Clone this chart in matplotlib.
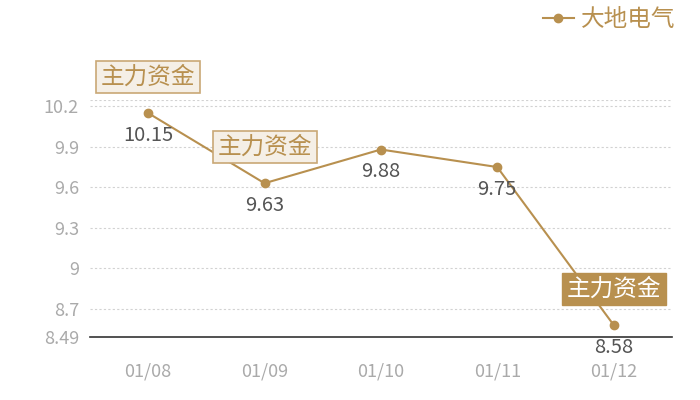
import matplotlib
matplotlib.use("Agg")
import matplotlib.pyplot as plt

plt.rcParams['font.family'] = ['Noto Sans CJK SC', 'DejaVu Sans']

# data
dates = ['01/08', '01/09', '01/10', '01/11', '01/12']
prices = [10.15, 9.63, 9.88, 9.75, 8.58]
marked = [0, 1, 4]          # points carrying a "主力资金" tag
dark_mark = [4]             # the filled-style tag
yticks = [8.49, 8.7, 9, 9.3, 9.6, 9.9, 10.2]
ytick_labels = ['8.49', '8.7', '9', '9.3', '9.6', '9.9', '10.2']
series_name = '大地电气'
tag_text = '主力资金'

gold = '#b8904f'

fig = plt.figure(figsize=(7, 4), dpi=100)
ax = fig.add_axes([0.1286, 0.1575, 0.831, 0.5918])

x = list(range(len(dates)))
ax.plot(x, prices, color=gold, lw=1.5, marker='o', ms=6, zorder=3, label=series_name)

ax.set_xlim(-0.5, len(dates) - 0.5)
ax.set_ylim(8.49, 10.245)
ax.set_xticks(x)
ax.set_xticklabels(dates)
ax.set_yticks(yticks)
ax.set_yticklabels(ytick_labels)

for y in yticks[1:] + [10.245]:
    ax.axhline(y, color='#d2d2d2', lw=0.8, ls=(0, (2, 2)), zorder=1)

for s in ['top', 'right', 'left']:
    ax.spines[s].set_visible(False)
ax.spines['bottom'].set_color('#333333')
ax.spines['bottom'].set_linewidth(1.2)
ax.tick_params(axis='both', length=0, labelsize=13, colors='#aaaaaa', pad=8)
ax.tick_params(axis='x', pad=18)

# value labels under the points
for i, v in enumerate(prices):
    ax.annotate('%.2f' % v, (i, v), xytext=(0, -16), textcoords='offset points',
                ha='center', va='center', fontsize=14.5, color='#555555', zorder=5)

# money-flow tags above the points
for i in marked:
    if i in dark_mark:
        box = dict(boxstyle='square,pad=0.2', fc=gold, ec=gold, lw=1)
        tc = 'white'
    else:
        box = dict(boxstyle='square,pad=0.2', fc='#f5efe6', ec='#c9a876', lw=1.2)
        tc = gold
    ax.annotate(tag_text, (i, prices[i]), xytext=(0, 26), textcoords='offset points',
                ha='center', va='center', fontsize=17, color=tc, bbox=box,
                zorder=6, annotation_clip=False)

leg = ax.legend(loc='upper right', bbox_to_anchor=(0.985, 1.015), bbox_transform=fig.transFigure,
                frameon=False, fontsize=17, handlelength=1.3, handletextpad=0.3,
                borderaxespad=0.2)
for t in leg.get_texts():
    t.set_color(gold)

fig.savefig('out.png', dpi=100)
